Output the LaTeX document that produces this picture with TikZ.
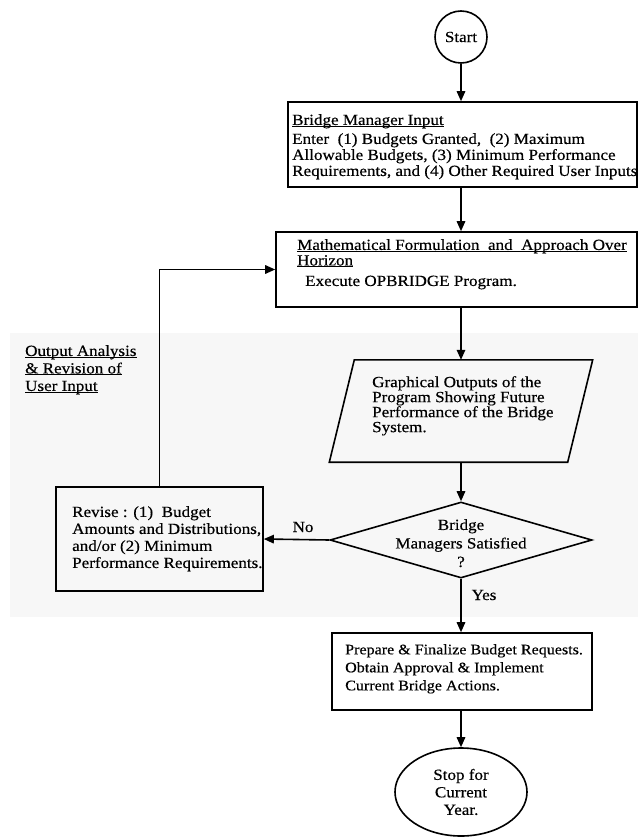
\documentclass[tikz,border=0pt]{standalone}
\usepackage{fontspec}
\setmainfont[FakeStretch=1.1,FakeBold=0.4]{Liberation Serif}
\newsavebox{\myulbox}
\newcommand{\myul}[1]{\sbox{\myulbox}{#1}\rlap{\rule[-1.8pt]{\wd\myulbox}{0.8pt}}\usebox{\myulbox}}
\usetikzlibrary{arrows.meta,shapes.geometric,calc}
\begin{document}
\begin{tikzpicture}[x=1pt,y=-1pt,
  every node/.style={inner sep=0pt, font=\fontsize{15.5}{16}\selectfont},
  box/.style={draw, rectangle, line width=1.6pt},
  txt/.style={align=left, anchor=north west},
  flow/.style={line width=1.6pt, -{Triangle[length=10pt,width=8.5pt]}},
  shp/.style={line width=1.6pt}
]
\useasboundingbox (0,0) rectangle (638,837);
\fill[black!3] (10,333) rectangle (638,617);

% shapes
\node[circle, draw, shp, minimum size=52pt] (start) at (461,37) {Start};
\node[box, minimum width=349pt, minimum height=85pt] (b1) at (462.5,144.5) {};
\node[box, minimum width=361pt, minimum height=75pt] (b2) at (456.5,269.5) {};
\node[minimum width=238pt, minimum height=102pt] (g) at (461,411) {};
\draw[shp] ([xshift=-12.5pt]g.south west) -- ([xshift=-12.5pt]g.south east)
  -- ([xshift=12.5pt]g.north east) -- ([xshift=12.5pt]g.north west) -- cycle;
\node[diamond, draw, shp, minimum width=262pt, minimum height=76pt] (d) at (461,540) {};
\node[box, minimum width=207pt, minimum height=104pt] (rev) at (159.5,539) {};
\node[box, minimum width=260pt, minimum height=77pt] (b4) at (462,671.5) {};
\node[ellipse, draw, shp, minimum width=132pt, minimum height=88pt, align=center,
  font=\fontsize{15.5}{17.5}\selectfont] (stop) at (461,792) {Stop for\\Current\\Year.};

% texts
\node[txt] (b1t) at (292,114) {\myul{Bridge Manager Input}\\[3pt]
Enter\ \ (1) Budgets Granted,\ \ (2) Maximum\\
Allowable Budgets, (3) Minimum Performance\\
Requirements, and (4) Other Required User Inputs};
\node[txt, font=\fontsize{15.5}{15.5}\selectfont] (b2t) at (297,239) {\myul{Mathematical Formulation\ \ and\ \ Approach Over}\\
\myul{Horizon}\\[5pt]
\hspace*{8pt}Execute OPBRIDGE Program.};
\node[txt, font=\fontsize{15.5}{15}\selectfont] (gt) at (372,376) {Graphical Outputs of the\\
Program Showing Future\\
Performance of the Bridge\\
System.};
\node[align=center, anchor=north, font=\fontsize{15.5}{18.5}\selectfont] (dt) at (461,519) {Bridge\\Managers Satisfied\\?};
\node[txt, font=\fontsize{15.5}{17}\selectfont] (revt) at (72,506) {Revise : (1)\ \ Budget\\
Amounts and Distributions,\\
and/or (2) Minimum\\
Performance Requirements.};
\node[txt, font=\fontsize{14.6}{18}\selectfont] (b4t) at (345,644) {Prepare \& Finalize Budget Requests.\\
Obtain Approval \& Implement\\
Current Bridge Actions.};
\node[txt, font=\fontsize{15.5}{17.5}\selectfont] (lab) at (25,345) {\myul{Output Analysis}\\
\myul{\& Revision of}\\
\myul{User Input}};
\node (no) at (303,527) {No};
\node (yes) at (484,595) {Yes};

% connectors
\draw[flow] (start.south) -- (start.south |- b1.north);
\draw[flow] (b1.south -| start) -- (b2.north -| start);
\draw[flow] (b2.south -| g.north) -- (g.north);
\draw[flow] (g.south) -- (d.north);
\draw[flow] (d.south) -- (b4.north -| d.south);
\draw[flow] (b4.south -| stop.north) -- (stop.north);
\draw[flow] (d.west) -- (rev.east);
\draw[flow] (rev.north) |- (b2.west);
\end{tikzpicture}
\end{document}
